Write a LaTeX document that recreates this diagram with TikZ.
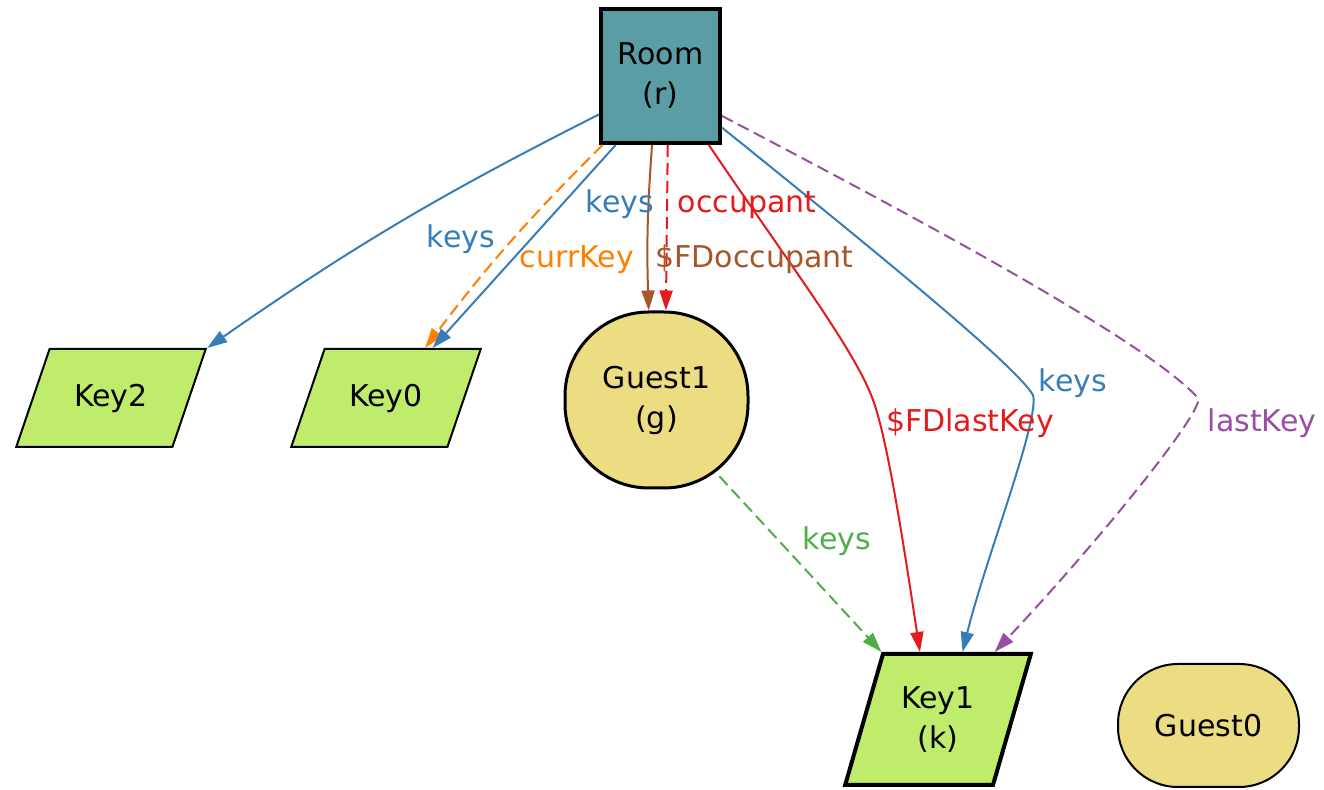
\documentclass[tikz,border=0pt]{standalone}
\usepackage{fontspec}
\setmainfont{DejaVu Sans}
\usetikzlibrary{arrows.meta,shapes.geometric}
\definecolor{roomteal}{RGB}{90,157,164}
\definecolor{keygreen}{RGB}{192,236,108}
\definecolor{guestyellow}{RGB}{236,220,130}
\definecolor{setred}{HTML}{E41A1C}
\definecolor{setblue}{HTML}{377EB8}
\definecolor{setgreen}{HTML}{4DAF4A}
\definecolor{setpurple}{HTML}{984EA3}
\definecolor{setorange}{HTML}{FF7F00}
\definecolor{setbrown}{HTML}{A65628}
\begin{document}
\begin{tikzpicture}[x=0.5pt,y=0.5pt,>={Triangle[length=10pt,width=6.5pt]},
    every node/.style={font=\fontsize{15}{20}\selectfont},
    keynode/.style={trapezium,trapezium stretches=true,draw,fill=keygreen,inner sep=0pt,align=center},
    guestnode/.style={rectangle,draw,fill=guestyellow,inner sep=0pt,align=center},
    lbl/.style={anchor=base,inner sep=0pt},
    link/.style={->,line width=1pt},
    dashlink/.style={link,dash pattern=on 6pt off 3pt}]
\useasboundingbox (0,0) rectangle (1324,-790);
\node[draw,line width=2pt,fill=roomteal,minimum width=59.5pt,minimum height=67pt,inner sep=0pt,align=center] (room) at (660.5,-76) {Room\\(r)};
\node[keynode,line width=1pt,trapezium left angle=55,trapezium right angle=125,minimum width=95pt,minimum height=49pt] (key2) at (111,-398) {Key2};
\node[keynode,line width=1pt,trapezium left angle=55,trapezium right angle=125,minimum width=95pt,minimum height=49pt] (key0) at (386,-398) {Key0};
\node[guestnode,line width=1.5pt,rounded corners=42pt,minimum width=91.5pt,minimum height=88pt] (guest1) at (656.5,-400) {Guest1\\(g)};
\node[keynode,line width=2pt,trapezium left angle=69,trapezium right angle=111,minimum width=93pt,minimum height=65.5pt] (key1) at (938,-719.5) {Key1\\(k)};
\node[guestnode,line width=1pt,rounded corners=30pt,minimum width=90.5pt,minimum height=61.5pt] (guest0) at (1208.5,-725.5) {Guest0};

\draw[link,setblue] (room.212) to[bend right=4] (key2.top right corner);
\draw[dashlink,setorange] (room.230) to[bend right=4] (key0.52);
\draw[link,setblue] (room.237) -- (key0.47);
\draw[link,setbrown] (room.263) to[bend right=3] (guest1.95);
\draw[dashlink,setred] (room.276) -- (guest1.84);
\draw[link,setred] (room.305) .. controls (790,-265) and (855,-350) .. (873,-400) .. controls (888,-440) and (906,-560) .. (key1.105);
\draw[link,setblue] (room.-40) .. controls (880,-255) and (1015,-365) .. (1033,-395) .. controls (1040,-420) and (985,-560) .. (key1.70);
\draw[dashlink,setpurple] (room.-33) .. controls (950,-235) and (1150,-345) .. (1198,-398) .. controls (1205,-410) and (1100,-540) .. (key1.50);
\draw[dashlink,setgreen,shorten <=-9pt] (guest1.-50) -- (key1.top left corner);

\node[lbl,text=setblue] (lkeysa) at (461,-248) {keys};
\node[lbl,text=setorange] (lcurr) at (577,-268) {currKey};
\node[lbl,text=setblue] (lkeysb) at (620,-213) {keys};
\node[lbl,text=setred] (locc) at (747,-213) {occupant};
\node[lbl,text=setbrown] (lfdocc) at (754.5,-268) {\$FDoccupant};
\node[lbl,text=setred] (lfdlast) at (970,-432) {\$FDlastKey};
\node[lbl,text=setblue] (lkeysc) at (1073,-392) {keys};
\node[lbl,text=setpurple] (llast) at (1262,-432) {lastKey};
\node[lbl,text=setgreen] (lkeysd) at (837,-550) {keys};
\end{tikzpicture}
\end{document}
